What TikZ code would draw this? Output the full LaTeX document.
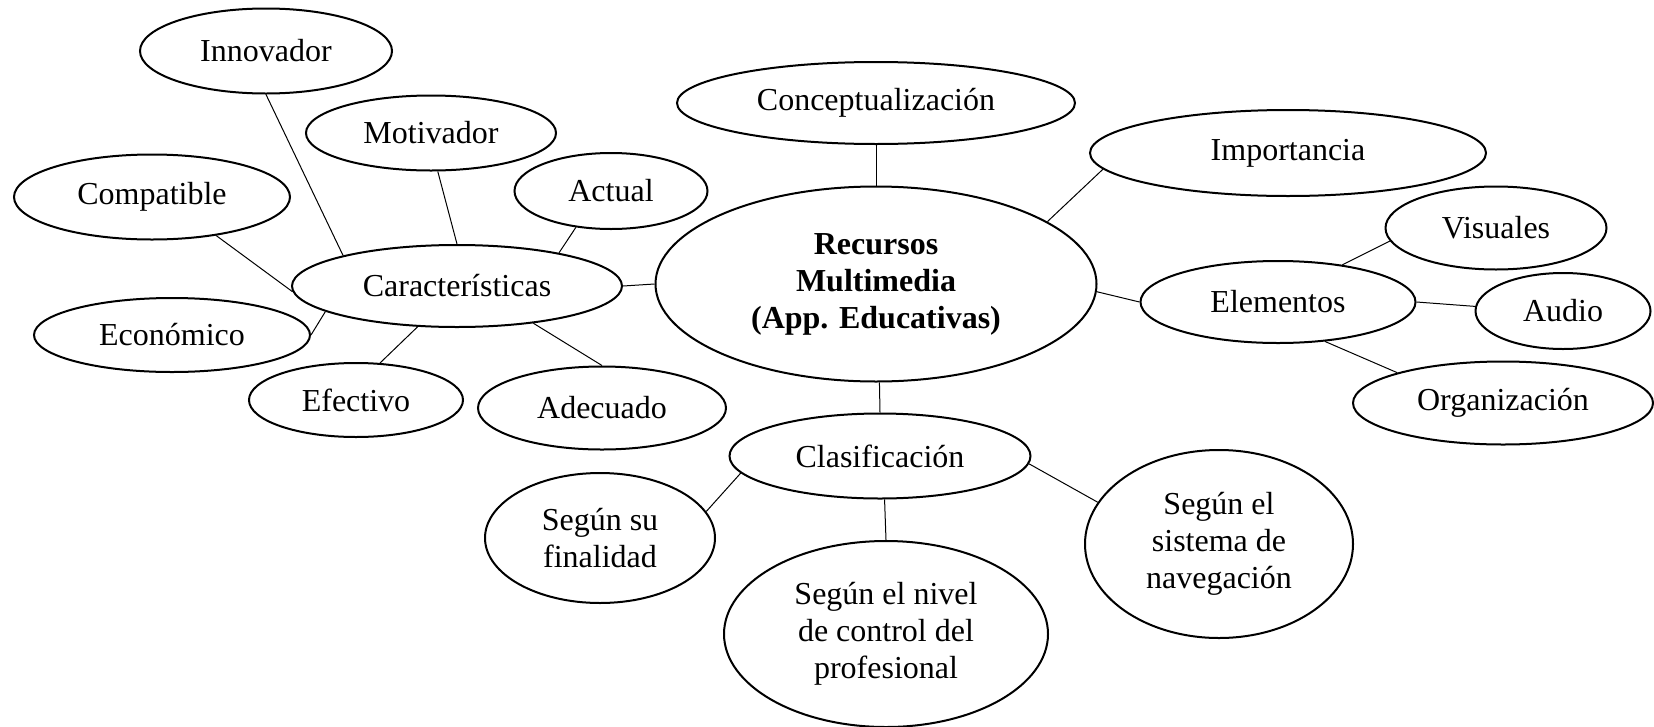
\documentclass[tikz,border=0pt]{standalone}
\usepackage{fontspec}
\setmainfont{Liberation Serif}
\usetikzlibrary{shapes.geometric}

\begin{document}
\begin{tikzpicture}[x=1pt,y=-1pt,
    burbuja/.style={ellipse,draw,line width=2pt,inner sep=0pt,align=center,font=\fontsize{32}{37}\selectfont},
    rama/.style={line width=1pt}]
    \useasboundingbox (0,0) rectangle (1654,726);
    \node[burbuja,minimum width=441,minimum height=195,font=\fontsize{32}{37}\selectfont\bfseries] (rec) at (876,284) {Recursos\\Multimedia\\(App. Educativas)};
    \node[burbuja,minimum width=330,minimum height=82] (carac) at (457,286) {Características};
    \node[burbuja,minimum width=252,minimum height=85] (innov) at (266,51) {Innovador};
    \node[burbuja,minimum width=250,minimum height=75] (motiv) at (431,133) {Motivador};
    \node[burbuja,minimum width=276,minimum height=85] (compat) at (152,197) {Compatible};
    \node[burbuja,minimum width=193,minimum height=76] (actual) at (611,191) {Actual};
    \node[burbuja,minimum width=276,minimum height=74] (econ) at (172,335) {Económico};
    \node[burbuja,minimum width=214,minimum height=74] (efect) at (356,400) {Efectivo};
    \node[burbuja,minimum width=248,minimum height=83] (adec) at (602,408) {Adecuado};
    \node[burbuja,minimum width=398,minimum height=82] (concep) at (876,103) {Conceptualización};
    \node[burbuja,minimum width=396,minimum height=86] (import) at (1288,153) {Importancia};
    \node[burbuja,minimum width=275,minimum height=82] (elem) at (1278,302) {Elementos};
    \node[burbuja,minimum width=221,minimum height=83] (visual) at (1496,228) {Visuales};
    \node[burbuja,minimum width=175,minimum height=76] (audio) at (1563,311) {Audio};
    \node[burbuja,minimum width=300,minimum height=83] (organ) at (1503,403) {Organización};
    \node[burbuja,minimum width=301,minimum height=85] (clasif) at (880,456) {Clasificación};
    \node[burbuja,minimum width=230,minimum height=130] (final) at (600,538) {Según su\\finalidad};
    \node[burbuja,minimum width=324,minimum height=186] (nivel) at (886,634) {Según el nivel\\de control del\\profesional};
    \node[burbuja,minimum width=268,minimum height=188] (sistema) at (1219,544) {Según el\\sistema de\\navegación};
    \draw[rama] (innov.south) -- (carac.165);
    \draw[rama] (motiv.280) -- (carac.north);
    \draw[rama] (compat.329) -- (carac.182);
    \draw[rama] (actual.226) -- (carac.18);
    \draw[rama] (econ.east) -- (carac.191);
    \draw[rama] (efect.57) -- (carac.226);
    \draw[rama] (adec.north) -- (carac.334);
    \draw[rama] (carac.east) -- (rec.west);
    \draw[rama] (concep.south) -- (rec.north);
    \draw[rama] (import.185) -- (rec.20);
    \draw[rama] (rec.358) -- (elem.west);
    \draw[rama] (elem.30) -- (visual.187);
    \draw[rama] (elem.east) -- (audio.177);
    \draw[rama] (elem.320) -- (organ.164);
    \draw[rama] (rec.272) -- (clasif.north);
    \draw[rama] (clasif.187) -- (final.14);
    \draw[rama] (clasif.276) -- (nivel.north);
    \draw[rama] (clasif.357) -- (sistema.161);
\end{tikzpicture}
\end{document}
